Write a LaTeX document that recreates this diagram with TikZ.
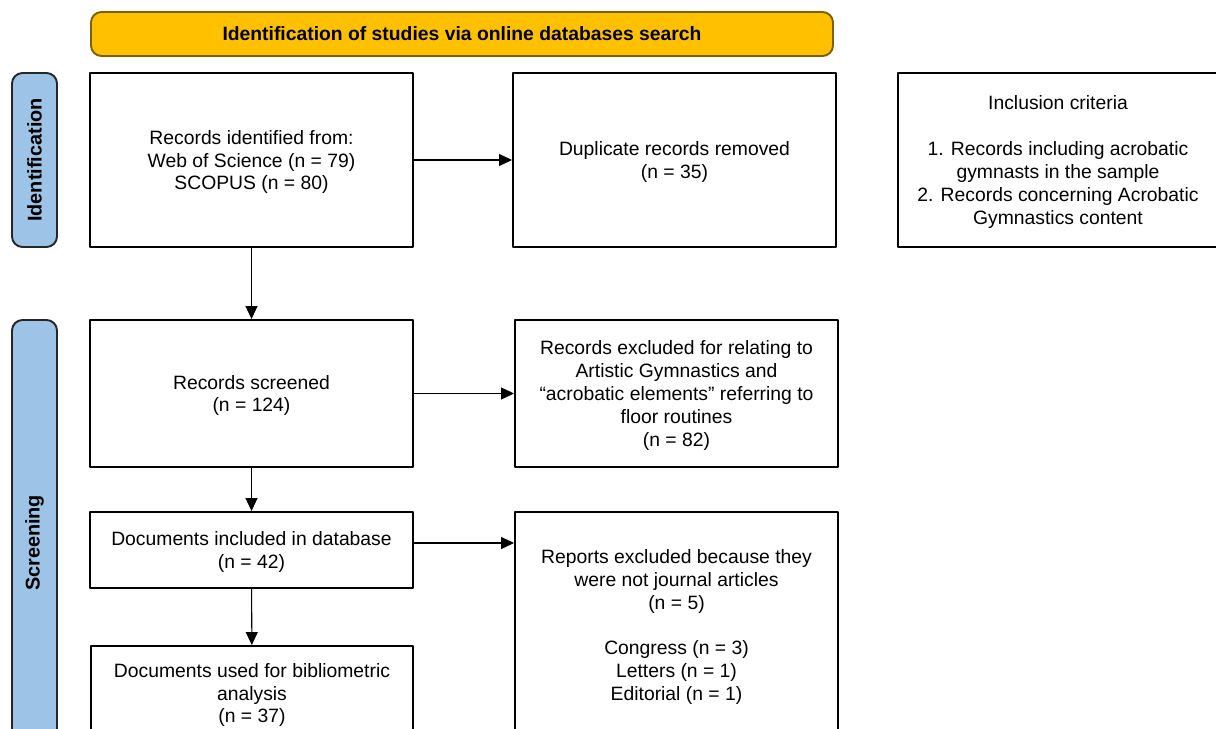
\documentclass[tikz,border=0pt]{standalone}
\usepackage{fontspec}
\setmainfont{Liberation Sans}
\usetikzlibrary{arrows.meta,calc}
\usetikzlibrary{positioning}
\definecolor{bannerfill}{HTML}{FFC000}
\definecolor{bannerline}{HTML}{7F6000}
\definecolor{barfill}{HTML}{9DC3E6}
\tikzset{stagebox/.style={draw,line width=1.1pt,rectangle,align=center,inner sep=2pt,text depth=-3pt},
  bannerbox/.style={draw=bannerline,fill=bannerfill,line width=1.1pt,rounded corners=6pt,font=\fontsize{11}{13}\selectfont\bfseries},
  sidebar/.style={draw=black!85,fill=barfill,line width=1.1pt,rounded corners=6pt,rotate=90,font=\fontsize{11.3}{13}\selectfont\bfseries},
  arr/.style={-{Triangle[length=2.6mm,width=2.4mm]},line width=0.6pt}}

\begin{document}
\begin{tikzpicture}[x=0.02cm,y=-0.02cm,>=Stealth,line join=round,font=\fontsize{11}{13}\selectfont]
\useasboundingbox (0,0) rectangle (1216,729);
\clip (0,0) rectangle (1216,729);
% --- header and phase bars
\node[bannerbox,minimum width=742*0.02cm,minimum height=44*0.02cm] (head) at (462,34) {Identification of studies via online databases search};
\node[sidebar,minimum width=174*0.02cm,minimum height=45*0.02cm] (idbar) at (34.5,160) {Identification};
\node[sidebar,minimum width=446*0.02cm,minimum height=45*0.02cm] (scrbar) at (34.5,543) {Screening};
% --- identification row
\node[stagebox,minimum width=323*0.02cm,minimum height=174*0.02cm] (recid) at (251.5,160) {Records identified from:\\Web of Science (n = 79)\\SCOPUS (n = 80)};
\node[stagebox,minimum width=323*0.02cm,minimum height=174*0.02cm] (dup) at (674.5,160) {Duplicate records removed\\(n = 35)};
\node[stagebox,minimum width=320*0.02cm,minimum height=174*0.02cm] (incl) at (1058,160) {Inclusion criteria\\[13pt]1. Records including acrobatic\\gymnasts in the sample\\2. Records concerning Acrobatic\\Gymnastics content};
% --- screening rows
\node[stagebox,minimum width=323*0.02cm,minimum height=147*0.02cm] (screen) at (251.5,393.5) {Records screened\\(n = 124)};
\node[stagebox,minimum width=323*0.02cm,minimum height=147*0.02cm] (excl) at (676.5,393.5) {Records excluded for relating to\\Artistic Gymnastics and\\``acrobatic elements'' referring to\\floor routines\\(n = 82)};
\node[stagebox,minimum width=323*0.02cm,minimum height=76*0.02cm] (indb) at (251.5,550) {Documents included in database\\(n = 42)};
\node[stagebox,minimum width=323*0.02cm,minimum height=226*0.02cm] (repex) at (676.5,625) {Reports excluded because they\\were not journal articles\\(n = 5)\\[13pt]Congress (n = 3)\\Letters (n = 1)\\Editorial (n = 1)};
\node[stagebox,minimum width=322*0.02cm,minimum height=94*0.02cm] (used) at (252,693) {Documents used for bibliometric\\analysis\\(n = 37)};
% --- connectors
\draw[arr] (recid) -- (dup);
\draw[arr] (recid) -- (screen);
\draw[arr] (screen) -- (excl);
\draw[arr] (screen) -- (indb);
\draw[arr] ([yshift=1.4mm]indb.east) -- ([yshift=1.4mm]indb.east -| repex.west);
\draw[arr] (indb) -- (used);
\end{tikzpicture}
\end{document}
